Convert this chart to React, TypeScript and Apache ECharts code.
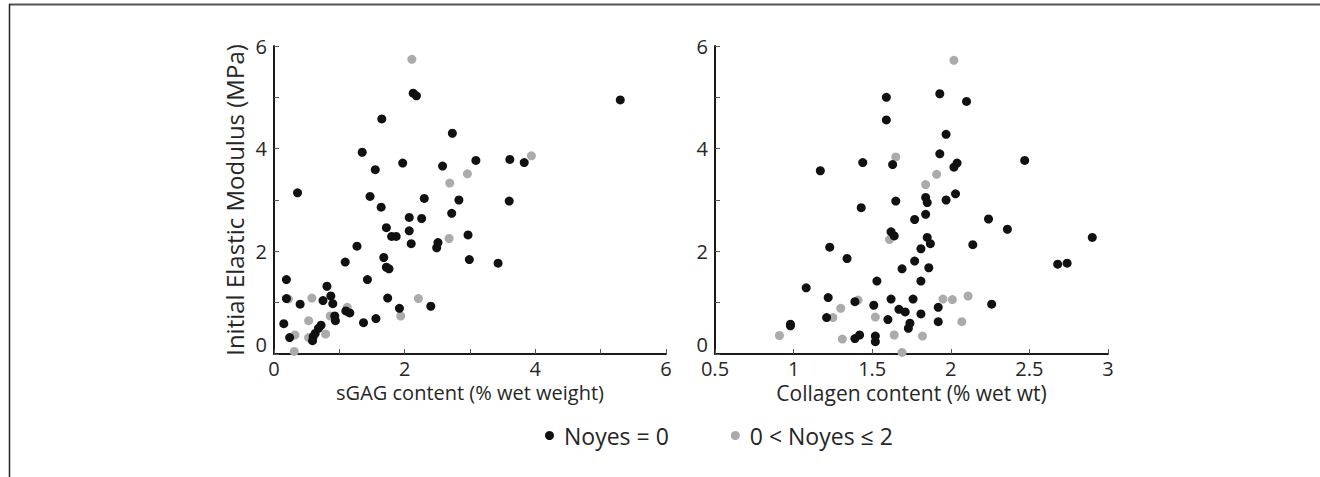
import React, { useEffect, useRef } from "react";
import * as echarts from "echarts";

// sGAG content (% wet weight) vs Initial Elastic Modulus (MPa)
const sgagNoyes0: number[][] = [
  [2.13, 5.08], [2.18, 5.03], [1.65, 4.58], [2.73, 4.3], [1.35, 3.93], [1.55, 3.59],
  [1.97, 3.72], [2.58, 3.66], [0.36, 3.14], [1.47, 3.07], [2.3, 3.03], [2.83, 3.0],
  [1.64, 2.86], [2.07, 2.66], [2.26, 2.64], [2.72, 2.74], [1.72, 2.46], [2.07, 2.4],
  [1.8, 2.29], [1.87, 2.29], [2.1, 2.15], [2.51, 2.17], [2.49, 2.07], [1.27, 2.1],
  [1.68, 1.88], [1.72, 1.69], [1.76, 1.66], [1.09, 1.79], [0.19, 1.45], [1.43, 1.45],
  [0.81, 1.32], [0.19, 1.08], [0.87, 1.13], [0.9, 0.98], [0.75, 1.04], [0.4, 0.97],
  [1.74, 1.09], [2.4, 0.93], [1.92, 0.89], [1.1, 0.84], [1.16, 0.8], [0.93, 0.74],
  [0.94, 0.65], [0.15, 0.59], [1.37, 0.61], [1.56, 0.69], [0.72, 0.56], [0.68, 0.5],
  [0.63, 0.4], [0.6, 0.34], [0.59, 0.26], [0.24, 0.32], [5.3, 4.95], [3.09, 3.77],
  [3.61, 3.79], [3.83, 3.73], [3.6, 2.98], [2.97, 2.32], [2.99, 1.84], [3.43, 1.77],
];
const sgagNoyes12: number[][] = [
  [2.11, 5.74], [2.69, 3.33], [2.68, 2.25], [0.58, 1.09], [2.21, 1.08], [1.94, 0.74],
  [1.12, 0.91], [0.86, 0.74], [0.53, 0.65], [0.79, 0.39], [0.53, 0.32], [0.32, 0.37],
  [0.31, 0.05], [3.94, 3.86], [2.96, 3.51], [0.22, 1.07],
];

// Collagen content (% wet wt) vs Initial Elastic Modulus (MPa)
const collagenNoyes0: number[][] = [
  [1.59, 5.0], [1.59, 4.56], [1.44, 3.73], [1.17, 3.57], [1.43, 2.85], [1.23, 2.08],
  [1.34, 1.86], [1.53, 1.42], [1.08, 1.29], [1.22, 1.1], [1.39, 1.02], [1.51, 0.95],
  [1.21, 0.71], [1.6, 0.67], [0.98, 0.58], [0.98, 0.55], [1.39, 0.3], [1.42, 0.37],
  [1.52, 0.35], [1.52, 0.24], [1.93, 5.07], [2.1, 4.92], [1.97, 4.28], [1.63, 3.69],
  [1.93, 3.9], [2.02, 3.64], [2.04, 3.72], [2.47, 3.77], [1.65, 2.98], [1.84, 3.05],
  [1.85, 2.95], [1.97, 3.0], [2.03, 3.12], [1.84, 2.72], [1.77, 2.62], [2.24, 2.63],
  [2.36, 2.43], [2.9, 2.27], [1.62, 2.38], [1.64, 2.3], [1.85, 2.27], [1.87, 2.15],
  [2.14, 2.13], [1.81, 2.05], [1.77, 1.81], [2.68, 1.75], [2.74, 1.77], [1.69, 1.66],
  [1.86, 1.68], [1.81, 1.42], [1.62, 1.07], [1.76, 1.07], [1.92, 0.91], [2.26, 0.97],
  [1.67, 0.87], [1.71, 0.82], [1.81, 0.78], [1.92, 0.63], [1.74, 0.6], [1.73, 0.5],
];
const collagenNoyes12: number[][] = [
  [1.41, 1.05], [1.3, 0.89], [1.25, 0.71], [1.52, 0.72], [0.91, 0.36], [1.31, 0.29],
  [2.02, 5.72], [1.65, 3.84], [1.91, 3.5], [1.84, 3.3], [1.61, 2.23], [1.95, 1.07],
  [2.01, 1.06], [2.11, 1.13], [2.07, 0.63], [1.64, 0.37], [1.82, 0.35], [1.69, 0.03],
];

const BLACK = "#111111";
const GRAY = "#ababab";
const TEXT = "#262626";
const FONT = "'Open Sans', sans-serif";

export default function App() {
  const ref = useRef<HTMLDivElement>(null);
  useEffect(() => {
    const chart = echarts.init(ref.current!, null, { renderer: "svg" });
    const axisLine = { show: true, lineStyle: { color: "#1a1a1a", width: 2 } };
    const axisTick = { show: true, inside: true, length: 5, lineStyle: { color: "#555", width: 1 } };
    const evenOnly = (v: number) => (Math.round(v) % 2 === 0 ? String(v) : "");
    const labelStyle = { color: TEXT, fontSize: 20, fontFamily: FONT };
    const yAxisBase = {
      type: "value",
      min: 0,
      max: 6,
      interval: 1,
      axisLine,
      axisTick,
      splitLine: { show: false },
      axisLabel: { ...labelStyle, formatter: evenOnly, margin: 7, verticalAlignMinLabel: "bottom" },
    };
    chart.setOption({
      animation: false,
      backgroundColor: "#fff",
      textStyle: { fontFamily: FONT },
      grid: [
        { left: 274, top: 46, width: 392, height: 308 },
        { left: 715, top: 46, width: 393, height: 308 },
      ],
      xAxis: [
        {
          type: "value",
          gridIndex: 0,
          min: 0,
          max: 6,
          interval: 1,
          axisLine,
          axisTick,
          splitLine: { show: false },
          axisLabel: { ...labelStyle, formatter: evenOnly, margin: 4 },
          name: "sGAG content (% wet weight)",
          nameLocation: "middle",
          nameGap: 27,
          nameTextStyle: { color: TEXT, fontSize: 20, fontFamily: FONT },
        },
        {
          type: "value",
          gridIndex: 1,
          min: 0.5,
          max: 3,
          interval: 0.5,
          axisLine,
          axisTick,
          splitLine: { show: false },
          axisLabel: { ...labelStyle, margin: 4 },
          name: "Collagen content (% wet wt)",
          nameLocation: "middle",
          nameGap: 27,
          nameTextStyle: { color: TEXT, fontSize: 21, fontFamily: FONT },
        },
      ],
      yAxis: [
        {
          ...yAxisBase,
          gridIndex: 0,
          name: "Initial Elastic Modulus (MPa)",
          nameLocation: "middle",
          nameGap: 28,
          nameTextStyle: { color: TEXT, fontSize: 24, fontFamily: FONT },
        },
        { ...yAxisBase, gridIndex: 1 },
      ],
      legend: {
        data: ["Noyes = 0", "0 < Noyes ≤ 2"],
        left: 545,
        top: 424,
        padding: 0,
        icon: "circle",
        itemWidth: 9,
        itemHeight: 9,
        itemGap: 62,
        textStyle: { color: TEXT, fontSize: 23, fontFamily: FONT, padding: [0, 0, 0, 5] },
      },
      graphic: [
        { type: "line", shape: { x1: 9, y1: 4.5, x2: 1320, y2: 4.5 }, style: { stroke: "#555", lineWidth: 2 } },
        { type: "line", shape: { x1: 9.5, y1: 4, x2: 9.5, y2: 477 }, style: { stroke: "#222", lineWidth: 1.5 } },
      ],
      series: [
        {
          name: "0 < Noyes ≤ 2",
          type: "scatter",
          xAxisIndex: 0,
          yAxisIndex: 0,
          data: sgagNoyes12,
          symbolSize: 9,
          itemStyle: { color: GRAY, opacity: 1 },
        },
        {
          name: "0 < Noyes ≤ 2",
          type: "scatter",
          xAxisIndex: 1,
          yAxisIndex: 1,
          data: collagenNoyes12,
          symbolSize: 9,
          itemStyle: { color: GRAY, opacity: 1 },
        },
        {
          name: "Noyes = 0",
          type: "scatter",
          xAxisIndex: 0,
          yAxisIndex: 0,
          data: sgagNoyes0,
          symbolSize: 9,
          itemStyle: { color: BLACK, opacity: 1 },
        },
        {
          name: "Noyes = 0",
          type: "scatter",
          xAxisIndex: 1,
          yAxisIndex: 1,
          data: collagenNoyes0,
          symbolSize: 9,
          itemStyle: { color: BLACK, opacity: 1 },
        },
      ],
    });
    return () => chart.dispose();
  }, []);
  return (
    <div
      ref={ref}
      style={{ position: "fixed", left: 0, top: 0, width: 1320, height: 477, background: "#fff" }}
    />
  );
}
